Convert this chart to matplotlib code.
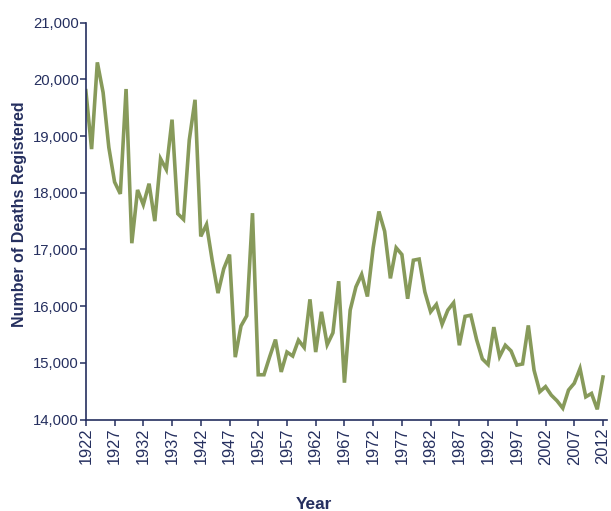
# ================= IMPORTS =================
import numpy as np
import matplotlib
matplotlib.use("Agg")
import matplotlib.pyplot as plt
from matplotlib.ticker import FuncFormatter

# ================= DADOS =================
anos = list(range(1922, 2013))
obitos = [
    19800, 18770, 20300, 19770, 18800, 18190, 17980, 19830, 17110, 18050,  # 1922-1931
    17790, 18160, 17500, 18600, 18410, 19290, 17630, 17530, 18930, 19640,  # 1932-1941
    17230, 17440, 16800, 16230, 16660, 16910, 15100, 15650, 15830, 17640,  # 1942-1951
    14790, 14790, 15110, 15410, 14840, 15190, 15120, 15400, 15270, 16120,  # 1952-1961
    15190, 15900, 15320, 15530, 16440, 14650, 15930, 16340, 16560, 16170,  # 1962-1971
    17030, 17670, 17320, 16490, 17030, 16910, 16130, 16810, 16830, 16250,  # 1972-1981
    15900, 16030, 15680, 15930, 16060, 15310, 15820, 15840, 15410, 15070,  # 1982-1991
    14970, 15630, 15110, 15310, 15210, 14960, 14980, 15660, 14870, 14490,  # 1992-2001
    14580, 14430, 14330, 14200, 14520, 14640, 14900, 14400, 14460, 14180,  # 2002-2011
    14750,                                                                  # 2012
]
anos_ticks = list(range(1922, 2013, 5))
y_ticks = list(range(14000, 21001, 1000))

# ================= ESTILO =================
cor_texto = "#252f5f"
cor_linha = "#879a5a"
plt.rcParams["font.family"] = ["Liberation Sans", "DejaVu Sans"]
# o original parece esticado na vertical: texto horizontal mais estreito
fonte_estreita = ["Liberation Sans Narrow", "Liberation Sans", "DejaVu Sans"]

# ================= GRAFICO =================
fig = plt.figure(figsize=(6.11, 5.11), dpi=100)
ax = fig.add_axes([0.1405, 0.179, 0.853, 0.7766])

ax.plot(anos, obitos, color=cor_linha, linewidth=2.6, solid_joinstyle="miter")

ax.set_xlim(1922, 2012.7)
ax.set_ylim(14000, 21000)
ax.set_xticks(anos_ticks)
ax.set_xticklabels([str(a) for a in anos_ticks], rotation=90, fontsize=11.8)
ax.set_yticks(y_ticks)
ax.set_yticklabels([f"{v:,}" for v in y_ticks], family=fonte_estreita, fontsize=10.7)

for lado in ["top", "right"]:
    ax.spines[lado].set_visible(False)
for lado in ["left", "bottom"]:
    ax.spines[lado].set_color(cor_texto)
    ax.spines[lado].set_linewidth(1.2)

ax.tick_params(axis="both", direction="out", length=4, width=1.1,
               colors=cor_texto, labelcolor=cor_texto)
ax.tick_params(axis="x", pad=2)
ax.tick_params(axis="y", pad=1)

ax.set_ylabel("Number of Deaths Registered", fontsize=11.5, fontweight="bold",
              color=cor_texto)
ax.yaxis.set_label_coords(-0.112, 0.517)
fig.text(0.514, 0.003, "Year", fontsize=12.4, fontweight="bold", family=fonte_estreita,
         color=cor_texto, ha="center", va="baseline")

fig.savefig("out.png", dpi=100)
